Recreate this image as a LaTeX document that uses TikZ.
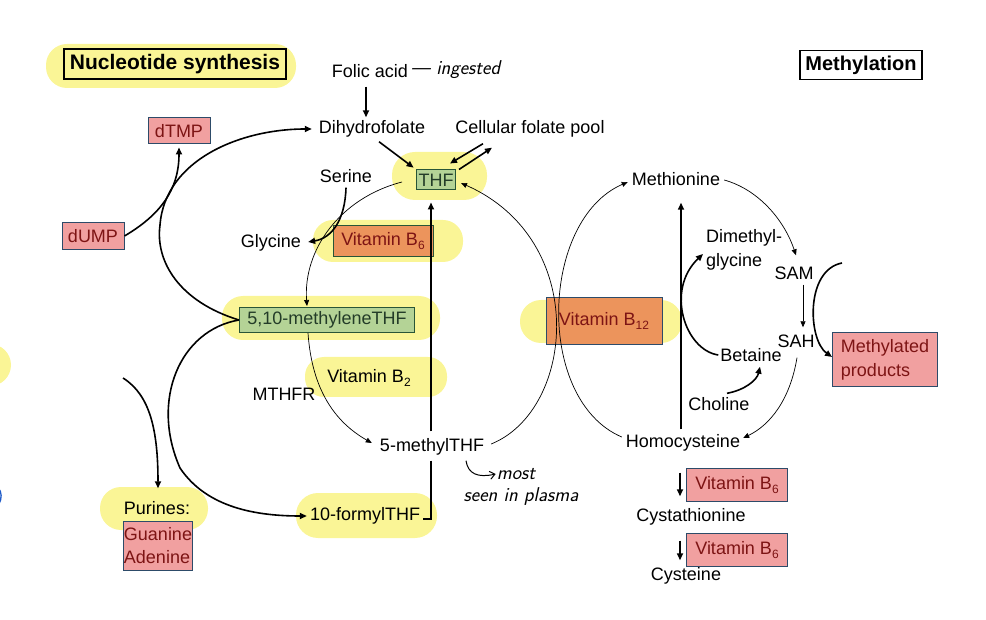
\documentclass[tikz,border=0pt]{standalone}
\usepackage{fontspec}
\setmainfont{Liberation Sans}
\usetikzlibrary{arrows.meta,calc}
\definecolor{hl}{RGB}{250,245,150}
\definecolor{pinkfill}{RGB}{241,160,160}
\definecolor{boxedge}{RGB}{45,75,105}
\definecolor{redtext}{RGB}{125,20,20}
\definecolor{greenfill}{RGB}{180,211,150}
\definecolor{greenedge}{RGB}{40,85,55}
\definecolor{greentext}{RGB}{35,60,40}
\definecolor{orangefill}{RGB}{236,148,92}
\definecolor{handblue}{RGB}{30,90,200}
\newcommand\subsc[1]{\raisebox{-0.4ex}{\fontsize{12}{12}\selectfont #1}}
\begin{document}
\begin{tikzpicture}[x=1pt,y=-1pt,
  lbl/.style={font=\fontsize{18}{20}\selectfont, inner sep=1pt, text height=13pt, text depth=4pt},
  hand/.style={font=\sffamily\itshape\fontsize{20}{22}\selectfont, inner sep=1pt},
  boxbase/.style={draw=boxedge, line width=1pt, inner sep=0pt, font=\fontsize{18}{20}\selectfont},
  pinkbox/.style={boxbase, fill=pinkfill, text=redtext},
  orangebox/.style={boxbase, fill=orangefill, text=redtext},
  greenbox/.style={boxbase, draw=greenedge, fill=greenfill, text=greentext},
  thk/.style={line width=1.6pt, -{Triangle[length=7pt,width=6pt]}},
  thn/.style={line width=0.7pt, -{Triangle[length=6pt,width=5pt]}},
  titlebox/.style={draw=black, line width=1.3pt, inner sep=0pt, font=\bfseries\fontsize{21}{22}\selectfont}
]
\useasboundingbox (0,0) rectangle (986,620);

% highlights
\fill[hl, rounded corners=21pt] (46,44) rectangle (296,88);
\fill[hl, rounded corners=23pt] (392,152) rectangle (487,200);
\fill[hl, rounded corners=20pt] (313,220) rectangle (463,262);
\fill[hl, rounded corners=21pt] (222,296) rectangle (440,340);
\fill[hl, rounded corners=19pt] (305,357) rectangle (447,397);
\fill[hl, rounded corners=21pt] (520,300) rectangle (682,343);
\fill[hl, rounded corners=21pt] (100,487) rectangle (208,530);
\fill[hl, rounded corners=22pt] (296,493) rectangle (437,538);
\fill[hl] (-10,365) circle (21);
\draw[handblue, line width=1.3pt] (-2,488) .. controls (2,491) and (2,499) .. (-1,504);

% nodes
\node[titlebox, fill=hl, minimum width=222pt, minimum height=30pt] (ns) at (175,64) {Nucleotide synthesis};
\node[titlebox, fill=white, minimum width=122pt, minimum height=29pt, font=\bfseries\fontsize{20}{22}\selectfont] (meth) at (861,65) {Methylation};

\node[lbl] (folic) at (370,73) {Folic acid};
\node[hand, anchor=west] (ing) at (410,70) {— ingested};
\node[lbl] (dhf) at (372,129) {Dihydrofolate};
\node[lbl] (pool) at (530,129) {Cellular folate pool};
\node[greenbox, minimum width=39pt, minimum height=20pt] (thf) at (436,180) {THF};
\node[lbl] (serine) at (346,178) {Serine};
\node[lbl] (glycine) at (271,243) {Glycine};
\node[orangebox, draw=greenedge, minimum width=100pt, minimum height=31pt] (vb6a) at (383,241) {Vitamin B\subsc{6}};
\node[greenbox, minimum width=175pt, minimum height=25pt] (mthf) at (327,320) {5,10-methyleneTHF};
\node[lbl] (vb2) at (369,378) {Vitamin B\subsc{2}};
\node[lbl] (mthfr) at (284,396) {MTHFR};
\node[lbl] (m5) at (432,447) {5-methylTHF};
\node[lbl] (formyl) at (365,516) {10-formylTHF};
\node[lbl] (purines) at (157,510) {Purines:};
\node[pinkbox, align=left, font=\fontsize{18}{23}\selectfont, minimum width=69pt, minimum height=49pt] (guan) at (158,546) {Guanine\\Adenine};
\node[pinkbox, minimum width=62pt, minimum height=26pt] (dtmp) at (179,131) {dTMP};
\node[pinkbox, minimum width=62pt, minimum height=27pt] (dump) at (93,236) {dUMP};
\node[orangebox, minimum width=116pt, minimum height=47pt] (vb12) at (604,321) {Vitamin B\subsc{12}};
\node[lbl] (met) at (676,181) {Methionine};
\node[inner sep=1pt, align=left, anchor=west, font=\fontsize{18}{24}\selectfont] (dmg) at (705,250) {Dimethyl-\\glycine};
\node[lbl] (sam) at (794,275) {SAM};
\node[lbl] (sah) at (796,343) {SAH};
\node[lbl] (betaine) at (751,357) {Betaine};
\node[lbl] (choline) at (719,406) {Choline};
\node[pinkbox, align=left, font=\fontsize{18}{24}\selectfont, minimum width=105pt, minimum height=54pt] (mprod) at (885,360) {Methylated\\products};
\node[lbl] (hcy) at (683,443) {Homocysteine};
\node[pinkbox, minimum width=101pt, minimum height=33pt] (vb6b) at (737,485) {Vitamin B\subsc{6}};
\node[lbl] (cysta) at (691,517) {Cystathionine};
\node[pinkbox, minimum width=101pt, minimum height=33pt] (vb6c) at (737,550) {Vitamin B\subsc{6}};
\node[lbl] (cys) at (686,576) {Cysteine};
\node[hand] (most) at (516,474) {most};
\node[hand] (plasma) at (521,497) {seen in plasma};
\coordinate (pstart) at (123,378);
\coordinate (mstart) at (842,263);

% folate cycle connectors
\draw[thk, shorten <=4pt, shorten >=2pt] ($(folic.south)+(-4,0)$) -- ($(folic.south |- dhf.north)+(-4,0)$);
\draw[thk, shorten <=5pt, shorten >=3pt] ($(dhf.south)+(3,0)$) -- (thf.north west);
\draw[thk] ($(pool.south)+(-47,5)$) -- ($(thf.north)+(14,-6)$);
\draw[thk] ($(thf.north)+(23,0)$) -- ($(pool.south)+(-38,9)$);
\draw[thk, shorten >=6pt] (serine.south) .. controls (345,220) and (332,238) .. (glycine.east);
\draw[thn] ($(thf.west)+(-14,2)$) .. controls (340,198) and (303,250) .. ($(mthf.north)+(-20,-1)$);
\draw[thn] ($(mthf.south)+(-19,0)$) .. controls (312,390) and (335,422) .. ($(m5.west)+(-7,-4)$);
\draw[thn] ($(m5.east)+(6,-3)$) .. controls (575,410) and (590,240) .. ($(thf.east)+(5,3)$);
\draw[thk] ($(m5.north)+(-1,-6)$) -- ($(thf.south)+(-5,12)$);
\draw[line width=1.6pt] ($(m5.south)+(-1,4)$) |- ($(formyl.east)+(2,3)$);
\draw[thk, shorten >=3pt] (dump.east) .. controls (160,215) and (179,190) .. (dtmp.south);
\draw[thk] (mthf.west) .. controls (180,302) and (155,262) .. (160,225) .. controls (165,160) and (240,129) .. ($(dhf.west)+(-6,0)$);
\draw[thk] (mthf.west) .. controls (180,330) and (150,400) .. (180,468) .. controls (205,505) and (250,516) .. ($(formyl.west)+(-2,0)$);
\draw[thk] (pstart) .. controls (150,395) and (158,430) .. ($(purines.north)+(1,-12)$);
\draw[line width=1pt, -{Straight Barb[length=5pt,width=8pt]}] ($(m5.south)+(34,4)$) .. controls (468,474) and (478,478) .. (most.west);

% methionine cycle connectors
\draw[thn] ($(hcy.west)+(-3,-6)$) .. controls (535,400) and (540,220) .. ($(met.west)+(-3,1)$);
\draw[thk] ($(hcy.north)+(-2,-4)$) -- ($(met.south)+(5,12)$);
\draw[thn] ($(met.east)+(3,-1)$) .. controls (760,190) and (785,222) .. ($(sam.north)+(2,-10)$);
\draw[thn] ($(sam.south)+(9,0)$) -- ($(sah.north)+(7,-6)$);
\draw[thn] ($(sah.south)+(1,5)$) .. controls (790,400) and (770,425) .. ($(hcy.east)+(2,-5)$);
\draw[thk] ($(betaine.west)+(-1,-2)$) .. controls (685,350) and (665,290) .. ($(dmg.west)+(-2,4)$);
\draw[thk] ($(choline.north)+(8,-3)$) .. controls (745,390) and (757,380) .. ($(betaine.south)+(9,0)$);
\draw[thk] (mstart) .. controls (805,270) and (808,340) .. ($(mprod.west)+(0,-3)$);
\draw[thk] ($(hcy.south)+(-3,20)$) -- ($(cysta.north)+(-11,-11)$);
\draw[thk] ($(cysta.south)+(-11,14)$) -- ($(cys.north)+(-6,-6)$);
\end{tikzpicture}
\end{document}
